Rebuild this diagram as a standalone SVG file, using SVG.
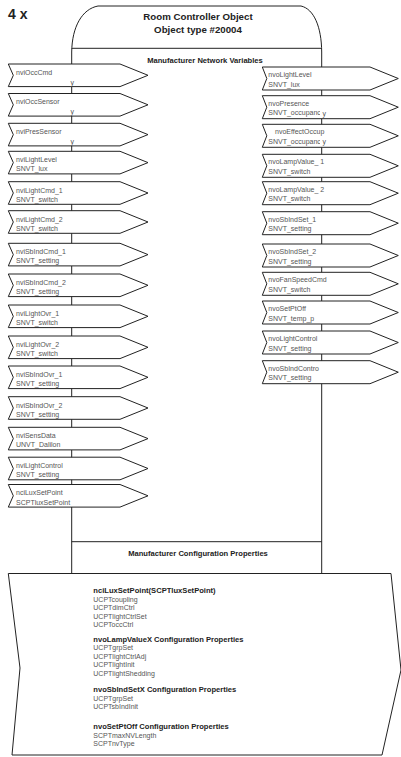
<svg xmlns="http://www.w3.org/2000/svg" xmlns:xlink="http://www.w3.org/1999/xlink" width="401" height="757" viewBox="0 0 401 757">
<style>
.ln{fill:none;stroke:#222;stroke-width:1}
.sh{fill:#fff;stroke:#222;stroke-width:1}
.t{font-family:"Liberation Sans",Arial,sans-serif;font-size:7px;fill:#555}
.b{font-family:"Liberation Sans",Arial,sans-serif;font-weight:bold;fill:#222}
</style>
<defs>
<path id="in" d="M0,0 H111.7 L139.7,11.3 L111.7,22.6 H0 L5,11.3 Z"/>
<path id="out" d="M0,0 H107.7 L136,11.5 L107.7,23 H0 L4.5,11.5 Z"/>
<clipPath id="cut"><rect x="260" y="0" width="60" height="757"/></clipPath>
</defs>
<rect width="401" height="757" fill="#fff"/>
<text x="8" y="19" class="b" font-size="14">4 x</text>
<g id="body">
<path class="ln" d="M71.7,573.5 V52 C72,27 82,9 98,6 H301 C314,9 321.5,27 321.7,52 V573.5"/>
<line class="ln" x1="71.7" y1="48.3" x2="321.7" y2="48.3"/>
<line class="ln" x1="71.7" y1="541.7" x2="321.7" y2="541.7"/>
<text x="198" y="20" class="b" font-size="9.7" text-anchor="middle">Room Controller Object</text>
<text x="198" y="32.5" class="b" font-size="9.7" text-anchor="middle">Object type #20004</text>
<text x="205" y="62.5" class="b" font-size="7.6" text-anchor="middle">Manufacturer Network Variables</text>
<text x="198" y="555.5" class="b" font-size="7.6" text-anchor="middle">Manufacturer Configuration Properties</text>
</g>
<g id="connectors"></g>
<g id="inputs">
<g id="nviOccCmd"><use xlink:href="#in" class="sh" x="8.3" y="64"/><text class="t" x="16" y="74.8">nviOccCmd</text><text class="t" x="70.5" y="84.5">y</text></g>
<g id="nviOccSensor"><use xlink:href="#in" class="sh" x="8.3" y="93.5"/><text class="t" x="16" y="104.3">nviOccSensor</text><text class="t" x="70.5" y="114">y</text></g>
<g id="nviPresSensor"><use xlink:href="#in" class="sh" x="8.3" y="123.3"/><text class="t" x="16" y="134.1">nviPresSensor</text><text class="t" x="70.5" y="143.8">y</text></g>
<g id="nviLightLevel"><use xlink:href="#in" class="sh" x="8.3" y="151.3"/><text class="t" x="16" y="162">nviLightLevel</text><text class="t" x="16" y="171.3">SNVT_lux</text></g>
<g id="nviLightCmd_1"><use xlink:href="#in" class="sh" x="8.3" y="181.7"/><text class="t" x="16" y="192.5">nviLightCmd_1</text><text class="t" x="16" y="201.7">SNVT_switch</text></g>
<g id="nviLightCmd_2"><use xlink:href="#in" class="sh" x="8.3" y="210.7"/><text class="t" x="16" y="221.5">nviLightCmd_2</text><text class="t" x="16" y="230.7">SNVT_switch</text></g>
<g id="nviSbIndCmd_1"><use xlink:href="#in" class="sh" x="8.3" y="243.3"/><text class="t" x="16" y="254.1">nviSbIndCmd_1</text><text class="t" x="16" y="263.3">SNVT_setting</text></g>
<g id="nviSbIndCmd_2"><use xlink:href="#in" class="sh" x="8.3" y="274"/><text class="t" x="16" y="284.8">nviSbIndCmd_2</text><text class="t" x="16" y="294">SNVT_setting</text></g>
<g id="nviLightOvr_1"><use xlink:href="#in" class="sh" x="8.3" y="305"/><text class="t" x="16" y="315.8">nviLightOvr_1</text><text class="t" x="16" y="325">SNVT_switch</text></g>
<g id="nviLightOvr_2"><use xlink:href="#in" class="sh" x="8.3" y="336"/><text class="t" x="16" y="346.8">nviLightOvr_2</text><text class="t" x="16" y="356">SNVT_switch</text></g>
<g id="nviSbIndOvr_1"><use xlink:href="#in" class="sh" x="8.3" y="366"/><text class="t" x="16" y="376.8">nviSbIndOvr_1</text><text class="t" x="16" y="386">SNVT_setting</text></g>
<g id="nviSbIndOvr_2"><use xlink:href="#in" class="sh" x="8.3" y="396.7"/><text class="t" x="16" y="407.5">nviSbIndOvr_2</text><text class="t" x="16" y="416.7">SNVT_setting</text></g>
<g id="nviSensData"><use xlink:href="#in" class="sh" x="8.3" y="427.3"/><text class="t" x="16" y="438.1">nviSensData</text><text class="t" x="16" y="447.3">UNVT_Dalilon</text></g>
<g id="nviLightControl"><use xlink:href="#in" class="sh" x="8.3" y="457.2"/><text class="t" x="16" y="468">nviLightControl</text><text class="t" x="16" y="477.2">SNVT_setting</text></g>
<g id="nciLuxSetPoint"><use xlink:href="#in" class="sh" x="8.3" y="484.5"/><text class="t" x="16" y="495.3">nciLuxSetPoint</text><text class="t" x="16" y="504.5">SCPTluxSetPoint</text></g>
</g>
<g id="outputs">
<g id="nvoLightLevel"><use xlink:href="#out" class="sh" x="262.3" y="67"/><text class="t" x="268.3" y="77">nvoLightLevel</text><text class="t" x="268.3" y="86.5">SNVT_lux</text></g>
<g id="nvoPresence"><use xlink:href="#out" class="sh" x="262.3" y="95.7"/><text class="t" x="268.3" y="105.7">nvoPresence</text><text class="t" x="268.3" y="115.2" clip-path="url(#cut)">SNVT_occupanc</text><text class="t" x="322.5" y="115.8">y</text></g>
<g id="nvoEffectOccup"><use xlink:href="#out" class="sh" x="262.3" y="124.3"/><text class="t" x="275" y="134.3">nvoEffectOccup</text><text class="t" x="268.3" y="143.8" clip-path="url(#cut)">SNVT_occupanc</text><text class="t" x="322.5" y="144.4">y</text></g>
<g id="nvoLampValue_1"><use xlink:href="#out" class="sh" x="262.3" y="154.3"/><text class="t" x="268.3" y="164.3">nvoLampValue_ 1</text><text class="t" x="268.3" y="173.8">SNVT_switch</text></g>
<g id="nvoLampValue_2"><use xlink:href="#out" class="sh" x="262.3" y="181.7"/><text class="t" x="268.3" y="191.7">nvoLampValue_ 2</text><text class="t" x="268.3" y="201.2">SNVT_switch</text></g>
<g id="nvoSbIndSet_1"><use xlink:href="#out" class="sh" x="262.3" y="211.7"/><text class="t" x="268.3" y="221.7">nvoSbIndSet_1</text><text class="t" x="268.3" y="231.2">SNVT_setting</text></g>
<g id="nvoSbIndSet_2"><use xlink:href="#out" class="sh" x="262.3" y="244"/><text class="t" x="268.3" y="254">nvoSbIndSet_2</text><text class="t" x="268.3" y="263.5">SNVT_setting</text></g>
<g id="nvoFanSpeedCmd"><use xlink:href="#out" class="sh" x="262.3" y="272.3"/><text class="t" x="268.3" y="282.3">nvoFanSpeedCmd</text><text class="t" x="268.3" y="291.8">SNVT_switch</text></g>
<g id="nvoSetPtOff"><use xlink:href="#out" class="sh" x="262.3" y="301"/><text class="t" x="268.3" y="311">nvoSetPtOff</text><text class="t" x="268.3" y="320.5">SNVT_temp_p</text></g>
<g id="nvoLightControl"><use xlink:href="#out" class="sh" x="262.3" y="331"/><text class="t" x="268.3" y="341">nvoLightControl</text><text class="t" x="268.3" y="350.5">SNVT_setting</text></g>
<g id="nvoSbIndContro"><use xlink:href="#out" class="sh" x="262.3" y="360.7"/><text class="t" x="268.3" y="370.7">nvoSbIndContro</text><text class="t" x="268.3" y="380.2">SNVT_setting</text></g>
</g>
<g id="config">
<path class="sh" d="M8.3,573.5 H391 L401,670 L382,755 H12 L20,668 Z"/>
<text class="b" font-size="7.6" x="93.3" y="592.7">nciLuxSetPoint(SCPTluxSetPoint)</text>
<text class="t" x="93.3" y="601.8">UCPTcoupling</text>
<text class="t" x="93.3" y="610.2">UCPTdimCtrl</text>
<text class="t" x="93.3" y="618.5">UCPTlightCtrlSet</text>
<text class="t" x="93.3" y="626.8">UCPToccCtrl</text>
<text class="b" font-size="7.6" x="93.3" y="642">nvoLampValueX Configuration Properties</text>
<text class="t" x="93.3" y="650">UCPTgrpSet</text>
<text class="t" x="93.3" y="658.5">UCPTlightCtrlAdj</text>
<text class="t" x="93.3" y="666.8">UCPTlightInit</text>
<text class="t" x="93.3" y="675.6">UCPTlightShedding</text>
<text class="b" font-size="7.6" x="93.3" y="692">nvoSbIndSetX Configuration Properties</text>
<text class="t" x="93.3" y="700.8">UCPTgrpSet</text>
<text class="t" x="93.3" y="709.2">UCPTsbIndInit</text>
<text class="b" font-size="7.6" x="93.3" y="728.7">nvoSetPtOff Configuration Properties</text>
<text class="t" x="93.3" y="737.5">SCPTmaxNVLength</text>
<text class="t" x="93.3" y="745.8">SCPTnvType</text>
</g>
</svg>
